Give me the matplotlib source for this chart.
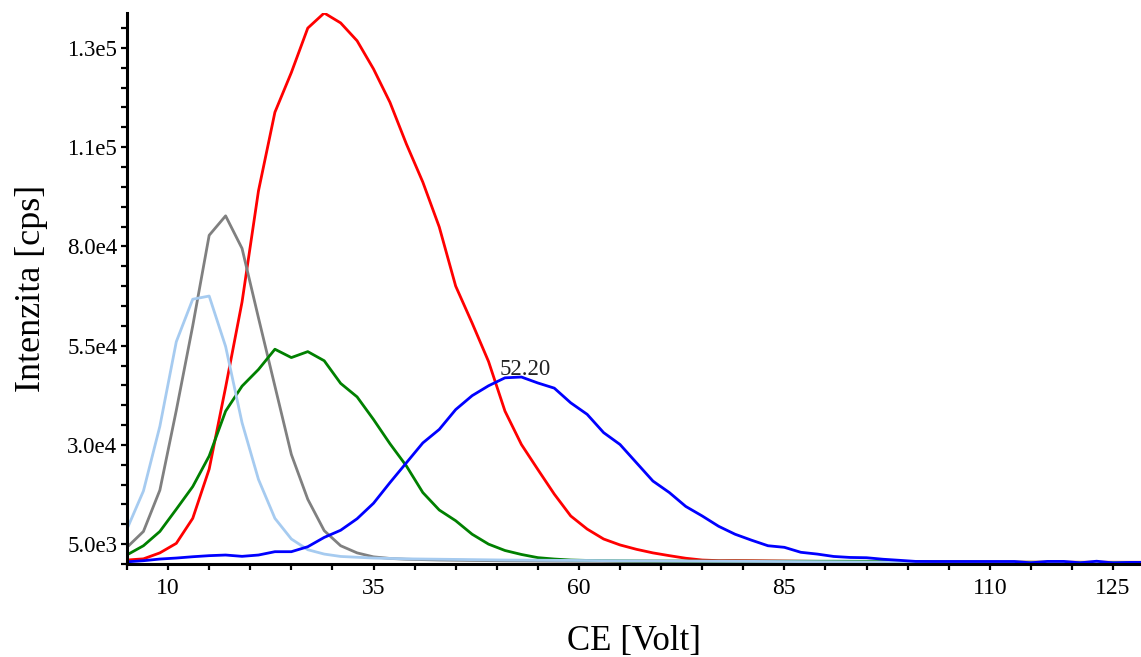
import matplotlib
matplotlib.use("Agg")
import matplotlib.pyplot as plt
import numpy as np

# collision energy steps (Volt)
ce = list(range(5, 131, 2))

red = [1000, 1300, 2800, 5200, 11500, 23900, 44500, 66000, 94000, 113800,
       123800, 135000, 138800, 136300, 131800, 124700, 116300, 105800, 96200, 84900,
       70000, 60700, 51000, 38500, 30100, 23800, 17600, 12100, 8800, 6300,
       4800, 3700, 2800, 2100, 1450, 1000, 850, 850, 820, 780,
       740, 700, 660, 630, 600, 580, 560, 540, 520, 500,
       490, 480, 470, 460, 460, 450, 450, 450, 440, 440,
       440, 430, 430]

gray = [4200, 8200, 18600, 38700, 60000, 82800, 87700, 79500, 62000, 44800,
        27600, 16300, 8400, 4600, 2800, 1800, 1400, 1200, 1100, 1000,
        950, 900, 850, 800, 780, 750, 720, 700, 680, 660,
        640, 620, 600, 580, 560, 540, 520, 500, 490, 480,
        470, 460, 450, 450, 440, 440, 430, 430, 420, 420,
        410, 410, 400, 400, 400, 390, 390, 390, 380, 380,
        380, 370, 370]

green = [2300, 4600, 8200, 13800, 19500, 27200, 38500, 44800, 49000, 54100,
         52000, 53500, 51200, 45500, 42100, 36400, 30300, 24700, 18000, 13600,
         10900, 7500, 5000, 3400, 2400, 1600, 1250, 1000, 900, 850,
         800, 780, 760, 750, 740, 730, 720, 720, 710, 700,
         700, 700, 700, 700, 690, 680, 660, 640, 600, 560,
         530, 500, 480, 460, 450, 440, 430, 420, 410, 400,
         400, 390, 390]

light_blue = [8800, 18400, 34700, 56000, 66700, 67500, 54800, 35600, 21300, 11500,
              6300, 3600, 2500, 1900, 1700, 1500, 1400, 1300, 1250, 1200,
              1150, 1100, 1050, 1000, 980, 950, 920, 900, 880, 850,
              820, 800, 780, 760, 740, 720, 700, 680, 660, 640,
              620, 600, 580, 560, 540, 520, 500, 480, 460, 440,
              420, 400, 380, 360, 340, 320, 300, 300, 290, 280,
              270, 260, 260]

blue = [550, 830, 1250, 1500, 1830, 2100, 2260, 1930, 2260, 3100,
        3100, 4350, 6700, 8500, 11400, 15300, 20500, 25500, 30500, 33900,
        38900, 42400, 44900, 46900, 47100, 45600, 44300, 40600, 37700, 33100,
        30100, 25500, 20900, 18000, 14500, 12100, 9500, 7500, 6000, 4600,
        4200, 2950, 2500, 1900, 1650, 1580, 1200, 930, 650, 630,
        630, 630, 630, 630, 630, 300, 650, 650, 300, 700,
        280, 400, 400]

peak_label = "52.20"
x_ticks = [10, 35, 60, 85, 110, 125]
y_ticks = [5000, 30000, 55000, 80000, 105000, 130000]
y_labels = ["5.0e3", "3.0e4", "5.5e4", "8.0e4", "1.1e5", "1.3e5"]

plt.rcParams["font.family"] = ["Liberation Serif", "DejaVu Serif"]

fig = plt.figure(figsize=(11.41, 6.57), dpi=100)
ax = fig.add_axes([127 / 1141, 1 - 564 / 657, 1 - 127 / 1141, (564 - 13) / 657])

lw = 2.0
ax.plot(ce, red, color="#ff0000", lw=lw)
ax.plot(ce, gray, color="#808080", lw=lw)
ax.plot(ce, green, color="#008000", lw=lw)
ax.plot(ce, light_blue, color="#a6cbf0", lw=lw)
ax.plot(ce, blue, color="#0000ff", lw=lw)

ax.text(50.4, max(blue) + 400, peak_label, fontsize=16.5, ha="left", va="baseline",
        color="#222222")

all_vals = red + gray + green + light_blue + blue
ax.set_xlim(5, 128.4)
ax.set_ylim(min(all_vals), max(all_vals))

ax.set_xticks(x_ticks)
ax.set_xticklabels([str(t) for t in x_ticks])
ax.set_xticks(np.arange(5, 129, 5), minor=True)
ax.set_yticks(y_ticks)
ax.set_yticklabels(y_labels)
ax.set_yticks(np.arange(0, 139000, 5000), minor=True)

ax.tick_params(axis="both", which="both", direction="out", length=4, width=1.6,
               color="black", labelsize=16.5)
ax.tick_params(axis="x", which="major", labelsize=17, pad=6)
ax.tick_params(axis="y", which="major", pad=3)

for side in ["top", "right"]:
    ax.spines[side].set_visible(False)
for side in ["left", "bottom"]:
    ax.spines[side].set_linewidth(2.2)
    ax.spines[side].set_color("black")

ax.set_xlabel("CE [Volt]", fontsize=25, labelpad=19)
ax.set_ylabel("Intenzita [cps]", fontsize=26, labelpad=14)

fig.savefig("out.png", dpi=100)
